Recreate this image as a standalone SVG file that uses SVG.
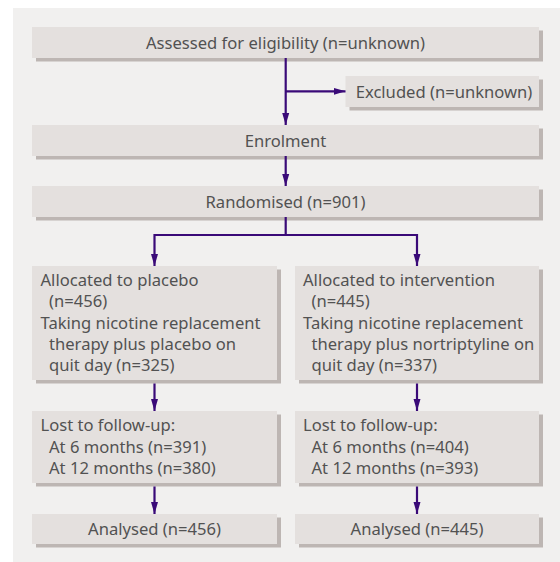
<svg xmlns="http://www.w3.org/2000/svg" width="560" height="562" viewBox="0 0 560 562">
<defs>
<style>
.bg{fill:#f1f0ef}
.box{fill:#e4e0de}
.sh{fill:#bdb6b3}
.t{font-family:"Noto Sans","Liberation Sans",sans-serif;font-size:16.6px;fill:#525252}
.c{text-anchor:middle}
.ln{fill:none;stroke:#3a0a78;stroke-width:2.2}
</style>
<marker id="ah" viewBox="0 0 12 8" refX="12" refY="4" markerWidth="12" markerHeight="8" markerUnits="userSpaceOnUse" orient="auto">
<path d="M0,0.5 L12,4 L0,7.5 Z" fill="#3a0a78"/>
</marker>
</defs>
<rect class="bg" x="13" y="8" width="547" height="554"/>
<g id="assessed">
<rect class="sh" x="36" y="30.5" width="507" height="31"/>
<rect class="box" x="32" y="27" width="507" height="31"/>
<text class="t c" x="285.5" y="48.5">Assessed for eligibility (n=unknown)</text>
</g>
<g id="excluded">
<rect class="sh" x="349.5" y="79.5" width="193.5" height="31"/>
<rect class="box" x="345.5" y="76" width="193.5" height="31"/>
<text class="t c" x="444" y="97.5">Excluded (n=unknown)</text>
</g>
<g id="enrolment">
<rect class="sh" x="36" y="128.5" width="507" height="31"/>
<rect class="box" x="32" y="125" width="507" height="31"/>
<text class="t c" x="285.5" y="146.5">Enrolment</text>
</g>
<g id="randomised">
<rect class="sh" x="36" y="189.5" width="507" height="31"/>
<rect class="box" x="32" y="186" width="507" height="31"/>
<text class="t c" x="285.5" y="207.5">Randomised (n=901)</text>
</g>
<g id="alloc-placebo">
<rect class="sh" x="36" y="269.5" width="245" height="114"/>
<rect class="box" x="32" y="266" width="245" height="114"/>
<text class="t" x="40.5" y="286">Allocated to placebo</text>
<text class="t" x="49" y="307.3">(n=456)</text>
<text class="t" x="40.5" y="328.6">Taking nicotine replacement</text>
<text class="t" x="49" y="349.9">therapy plus placebo on</text>
<text class="t" x="49" y="371.2">quit day (n=325)</text>
</g>
<g id="alloc-intervention">
<rect class="sh" x="299" y="269.5" width="244" height="114"/>
<rect class="box" x="295" y="266" width="244" height="114"/>
<text class="t" x="303" y="286">Allocated to intervention</text>
<text class="t" x="311.5" y="307.3">(n=445)</text>
<text class="t" x="303" y="328.6">Taking nicotine replacement</text>
<text class="t" x="311.5" y="349.9">therapy plus nortriptyline on</text>
<text class="t" x="311.5" y="371.2">quit day (n=337)</text>
</g>
<g id="lost-placebo">
<rect class="sh" x="36" y="414.5" width="245" height="72"/>
<rect class="box" x="32" y="411" width="245" height="72"/>
<text class="t" x="40.5" y="431">Lost to follow-up:</text>
<text class="t" x="49" y="452.5">At 6 months (n=391)</text>
<text class="t" x="49" y="474">At 12 months (n=380)</text>
</g>
<g id="lost-intervention">
<rect class="sh" x="299" y="414.5" width="244" height="72"/>
<rect class="box" x="295" y="411" width="244" height="72"/>
<text class="t" x="303" y="431">Lost to follow-up:</text>
<text class="t" x="311.5" y="452.5">At 6 months (n=404)</text>
<text class="t" x="311.5" y="474">At 12 months (n=393)</text>
</g>
<g id="analysed-placebo">
<rect class="sh" x="36" y="517.5" width="245" height="30"/>
<rect class="box" x="32" y="514" width="245" height="30"/>
<text class="t c" x="154.5" y="535">Analysed (n=456)</text>
</g>
<g id="analysed-intervention">
<rect class="sh" x="299" y="517.5" width="244" height="30"/>
<rect class="box" x="295" y="514" width="244" height="30"/>
<text class="t c" x="417" y="535">Analysed (n=445)</text>
</g>
<g id="connectors">
<path class="ln" d="M285.7,58 V125" marker-end="url(#ah)"/>
<path class="ln" d="M285.7,91.3 H345.5" marker-end="url(#ah)"/>
<path class="ln" d="M285.7,156 V186" marker-end="url(#ah)"/>
<path class="ln" d="M285.7,217 V235 H154.5 V266" marker-end="url(#ah)"/>
<path class="ln" d="M285.7,235 H417 V266" marker-end="url(#ah)"/>
<path class="ln" d="M154.5,383.5 V411" marker-end="url(#ah)"/>
<path class="ln" d="M417,383.5 V411" marker-end="url(#ah)"/>
<path class="ln" d="M154.5,486.5 V514" marker-end="url(#ah)"/>
<path class="ln" d="M417,486.5 V514" marker-end="url(#ah)"/>
</g>
</svg>
